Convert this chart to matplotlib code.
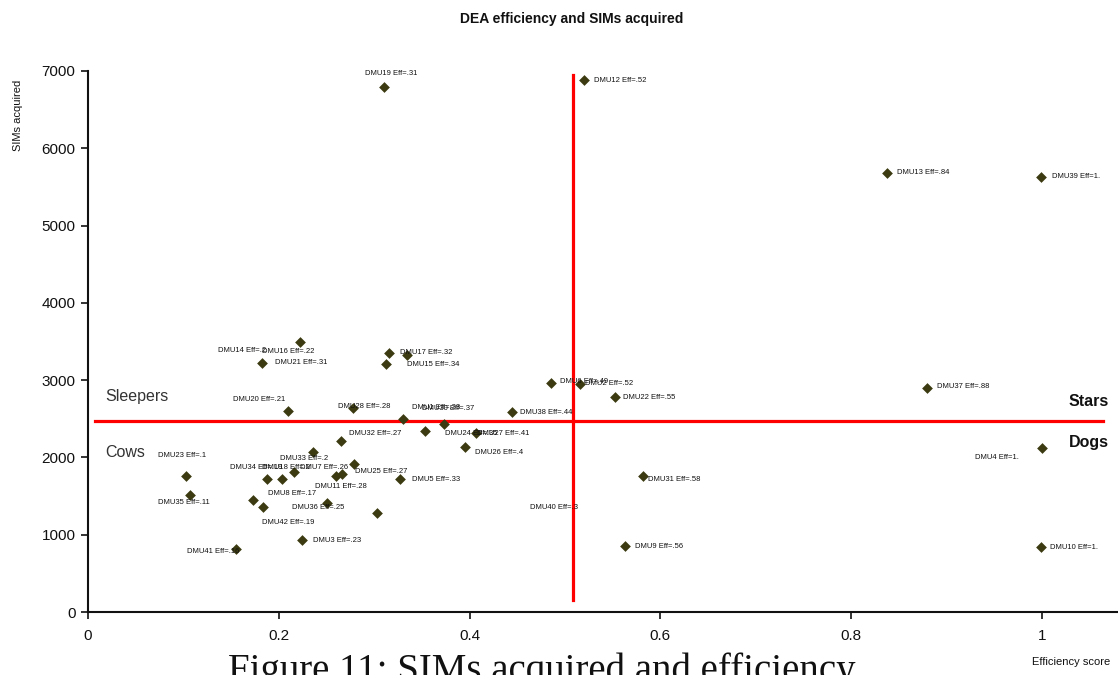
import matplotlib
matplotlib.use("Agg")
import matplotlib.pyplot as plt
from matplotlib import font_manager

names = {f.name for f in font_manager.fontManager.ttflist}
narrow = "Liberation Sans Narrow" if "Liberation Sans Narrow" in names else "Liberation Sans"
plt.rcParams["font.family"] = [narrow, "DejaVu Sans"]

# ---- data (efficiency score, SIMs acquired) ----
efficiency = [0.310, 0.520, 0.838, 0.999, 0.222, 0.182, 0.316, 0.334, 0.312, 0.210,
              0.278, 0.330, 0.444, 0.353, 0.373, 0.407, 0.395, 0.265, 0.236, 0.279,
              0.188, 0.203, 0.216, 0.260, 0.266, 0.327, 0.173, 0.183, 0.251, 0.303,
              0.224, 0.155, 0.103, 0.107, 0.485, 0.516, 0.552, 0.582, 0.563, 0.879,
              1.000, 0.999]
sims = [6790, 6880, 5680, 5630, 3490, 3220, 3350, 3325, 3210, 2600,
        2640, 2500, 2590, 2340, 2430, 2315, 2135, 2215, 2070, 1915,
        1720, 1720, 1810, 1760, 1785, 1720, 1450, 1360, 1410, 1280,
        930, 815, 1760, 1515, 2965, 2950, 2780, 1760, 855, 2900,
        2120, 840]

# point labels: (text, index of point)
label_text = ["DMU19 Eff=.31", "DMU12 Eff=.52", "DMU13 Eff=.84", "DMU39 Eff=1.",
              "DMU14 Eff=.2", "DMU16 Eff=.22", "DMU21 Eff=.31", "DMU17 Eff=.32",
              "DMU15 Eff=.34", "DMU20 Eff=.21", "DMU28 Eff=.28", "DMU1 Eff=.33",
              "DMU30 Eff=.37", "DMU38 Eff=.44", "DMU32 Eff=.27", "DMU24 Eff=.35",
              "DMU27 Eff=.41", "DMU26 Eff=.4", "DMU23 Eff=.1", "DMU35 Eff=.11",
              "DMU34 Eff=.19", "DMU18 Eff=.2", "DMU7 Eff=.26", "DMU25 Eff=.27",
              "DMU5 Eff=.33", "DMU33 Eff=.2", "DMU11 Eff=.28", "DMU8 Eff=.17",
              "DMU36 Eff=.25", "DMU42 Eff=.19", "DMU3 Eff=.23", "DMU41 Eff=.16",
              "DMU40 Eff=.3", "DMU6 Eff=.49", "DMU2 Eff=.52", "DMU22 Eff=.55",
              "DMU31 Eff=.58", "DMU9 Eff=.56", "DMU37 Eff=.88", "DMU4 Eff=1.",
              "DMU10 Eff=1."]
label_point = [0, 1, 2, 3, 4, 4, 5, 6, 8, 9, 10, 11, 14, 12, 17, 13, 15, 16, 32, 33,
               20, 21, 23, 19, 25, 22, 24, 26, 28, 27, 30, 31, 29, 34, 35, 36, 37, 38, 39, 40, 41]
# label offsets (pixels: left edge relative to point, vertical centre above point)
label_dx = [-19, 10, 10, 11, -82, -38, 13, 11, 21, -55, -15, 9, -22, 8, 8, 20, 1, 10, -28, -32,
            -37, -20, -36, 1, 12, -14, -27, 15, -35, -1, 11, -49, 153, 9, 5, 8, 5, 10, 10, -67, 9]
label_dy = [14, 0, 1, 0, -8, -9, 1, 1, -1, 12, 1, 11, 16, -1, 7, -2, 0, -6, 20, -8,
            12, 12, 8, -8, 0, 14, -12, 6, -4, -16, 0, -2, 6, 1, 1, 0, -4, -1, 1, -9, 0]

eff_threshold = 0.508
sims_threshold = 2470

fig = plt.figure(figsize=(11.18, 6.75), dpi=100)
ax = fig.add_axes([88 / 1118, 1 - 612 / 675, 1 - 88 / 1118, (612 - 71) / 675])
ax.set_xlim(0, 1030 / 954)
ax.set_ylim(0, 7000)

ax.axvline(eff_threshold, ymin=155 / 7000, ymax=6950 / 7000, color="#ff0000", lw=2.3, zorder=1)
ax.axhline(sims_threshold, xmin=0.007 / (1030 / 954), xmax=1.064 / (1030 / 954),
           color="#ff0000", lw=2.3, zorder=1)

ax.scatter(efficiency, sims, marker="D", s=30, color="#3b3a10", zorder=3, linewidths=0)

for t, i, dx, dy in zip(label_text, label_point, label_dx, label_dy):
    ax.annotate(t, (efficiency[i], sims[i]), xytext=(dx, dy), textcoords="offset pixels",
                ha="left", va="center", fontsize=5.5, color="#111111", zorder=4,
                annotation_clip=False)

for s in ["top", "right"]:
    ax.spines[s].set_visible(False)
for s in ["left", "bottom"]:
    ax.spines[s].set_linewidth(1.5)
    ax.spines[s].set_color("#111111")

ax.set_xticks([0, 0.2, 0.4, 0.6, 0.8, 1.0])
ax.set_xticklabels(["0", "0.2", "0.4", "0.6", "0.8", "1"])
ax.set_yticks(range(0, 7001, 1000))
ax.tick_params(axis="both", direction="out", length=5, width=1.2, labelsize=11, colors="#111111")
ax.tick_params(axis="x", pad=7)
ax.tick_params(axis="y", pad=4)

ax.text(0.018, 2790, "Sleepers", fontsize=11.5, color="#333333", va="center", ha="left")
ax.text(0.018, 2070, "Cows", fontsize=11.5, color="#333333", va="center", ha="left")
ax.text(1.07, 2730, "Stars", fontsize=11.5, color="#111111", fontweight="bold", va="center", ha="right")
ax.text(1.07, 2190, "Dogs", fontsize=11.5, color="#111111", fontweight="bold", va="center", ha="right")

fig.text(572 / 1118, 1 - 19 / 675, "DEA efficiency and SIMs acquired", ha="center", va="center",
         fontsize=10, fontweight="bold", color="#111111")
fig.text(18 / 1118, 1 - 115 / 675, "SIMs acquired", rotation=90, ha="center", va="center",
         fontsize=8, color="#111111")
fig.text(1110 / 1118, 1 - 662 / 675, "Efficiency score", ha="right", va="center",
         fontsize=8, color="#111111")
fig.text(228 / 1118, 1 - 652 / 675, "Figure 11: SIMs acquired and efficiency", ha="left", va="top",
         fontsize=28, color="#111111", family=["Liberation Serif", "DejaVu Serif"])

fig.savefig("out.png", dpi=100)
